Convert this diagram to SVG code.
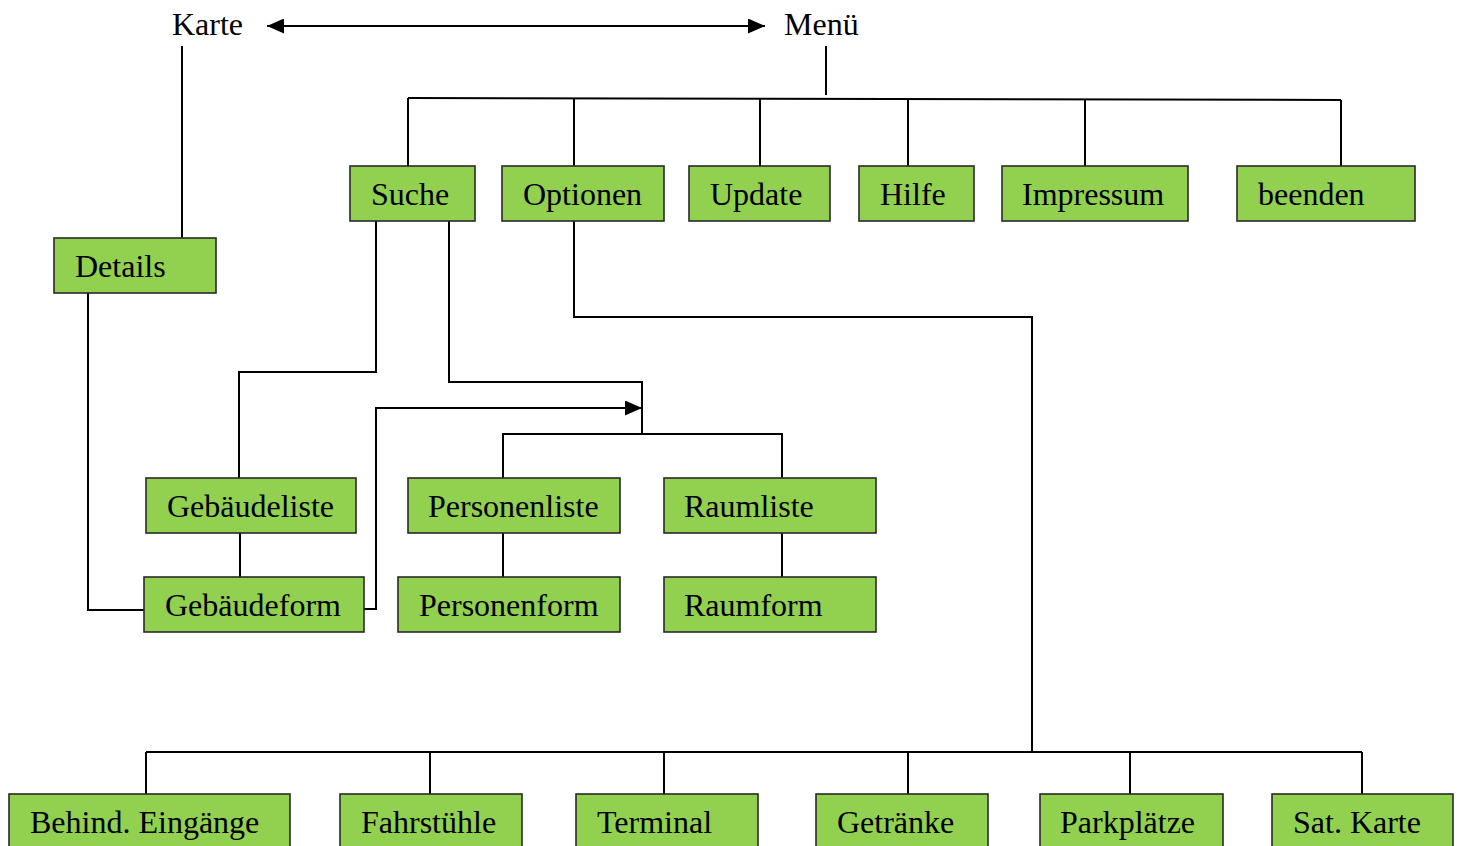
<svg xmlns="http://www.w3.org/2000/svg" width="1462" height="846" viewBox="0 0 1462 846">
<style>
.b{fill:#92d050;stroke:#2a2a2a;stroke-width:1.6}
.t{font-family:"Liberation Serif","Times New Roman",serif;font-size:32px;fill:#000}
.c{fill:none;stroke:#000;stroke-width:2}
</style>
<defs>
<marker id="ah2" markerWidth="17" markerHeight="15" refX="17" refY="7.5" orient="auto-start-reverse" markerUnits="userSpaceOnUse" viewBox="0 0 17 15">
<path d="M0,0 L17,7.5 L0,15 z" fill="#000"/>
</marker>
</defs>
<g id="connectors">
<path class="c" d="M267,26 H765" marker-start="url(#ah2)" marker-end="url(#ah2)"/>
<path class="c" d="M182,46 V238"/>
<path class="c" d="M826,46 V95"/>
<path class="c" d="M408,98 L1341,100"/>
<path class="c" d="M408,98 V166 M574,98 V166 M760,99 V166 M908,99 V166 M1085,99 V166 M1341,100 V166"/>
<path class="c" d="M88,293 V610 H144"/>
<path class="c" d="M376,221 V372 H239 V478"/>
<path class="c" d="M449,221 V382 H642 V434"/>
<path class="c" d="M503,478 V434 H782 V478"/>
<path class="c" d="M364,609 H376 V408 H642" marker-end="url(#ah2)"/>
<path class="c" d="M240,533 V577 M503,533 V577 M782,533 V577"/>
<path class="c" d="M574,221 V317 H1032 V752"/>
<path class="c" d="M146,752 H1362"/>
<path class="c" d="M146,752 V794 M430,752 V794 M664,752 V794 M908,752 V794 M1130,752 V794 M1362,752 V794"/>
</g>
<g id="karte"><text class="t" x="172" y="35">Karte</text></g>
<g id="menu"><text class="t" x="784" y="35">Menü</text></g>
<g id="suche"><rect class="b" x="350" y="166" width="125" height="55"/><text class="t" x="371" y="205">Suche</text></g>
<g id="optionen"><rect class="b" x="502" y="166" width="162" height="55"/><text class="t" x="523" y="205">Optionen</text></g>
<g id="update"><rect class="b" x="689" y="166" width="141" height="55"/><text class="t" x="710" y="205">Update</text></g>
<g id="hilfe"><rect class="b" x="859" y="166" width="115" height="55"/><text class="t" x="880" y="205">Hilfe</text></g>
<g id="impressum"><rect class="b" x="1002" y="166" width="186" height="55"/><text class="t" x="1022" y="205">Impressum</text></g>
<g id="beenden"><rect class="b" x="1237" y="166" width="178" height="55"/><text class="t" x="1258" y="205">beenden</text></g>
<g id="details"><rect class="b" x="54" y="238" width="162" height="55"/><text class="t" x="75" y="277">Details</text></g>
<g id="gebaeudeliste"><rect class="b" x="146" y="478" width="210" height="55"/><text class="t" x="167" y="517">Gebäudeliste</text></g>
<g id="personenliste"><rect class="b" x="408" y="478" width="212" height="55"/><text class="t" x="428" y="517">Personenliste</text></g>
<g id="raumliste"><rect class="b" x="664" y="478" width="212" height="55"/><text class="t" x="684" y="517">Raumliste</text></g>
<g id="gebaeudeform"><rect class="b" x="144" y="577" width="220" height="55"/><text class="t" x="165" y="616">Gebäudeform</text></g>
<g id="personenform"><rect class="b" x="398" y="577" width="222" height="55"/><text class="t" x="419" y="616">Personenform</text></g>
<g id="raumform"><rect class="b" x="664" y="577" width="212" height="55"/><text class="t" x="684" y="616">Raumform</text></g>
<g id="behind"><rect class="b" x="9" y="794" width="281" height="70"/><text class="t" x="30" y="833">Behind. Eingänge</text></g>
<g id="fahrstuehle"><rect class="b" x="340" y="794" width="182" height="70"/><text class="t" x="361" y="833">Fahrstühle</text></g>
<g id="terminal"><rect class="b" x="576" y="794" width="182" height="70"/><text class="t" x="597" y="833">Terminal</text></g>
<g id="getraenke"><rect class="b" x="816" y="794" width="172" height="70"/><text class="t" x="837" y="833">Getränke</text></g>
<g id="parkplaetze"><rect class="b" x="1040" y="794" width="183" height="70"/><text class="t" x="1060" y="833">Parkplätze</text></g>
<g id="satkarte"><rect class="b" x="1272" y="794" width="181" height="70"/><text class="t" x="1293" y="833">Sat. Karte</text></g>
</svg>
